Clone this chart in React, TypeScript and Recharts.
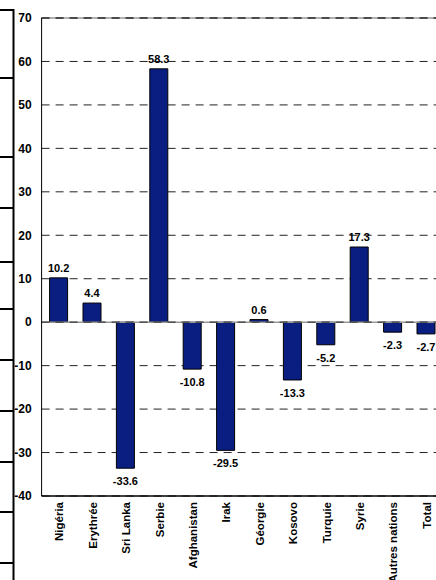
import { Bar, BarChart, CartesianGrid, LabelList, ReferenceLine, XAxis, YAxis } from "recharts";

const countries = [
  "Nigéria",
  "Erythrée",
  "Sri Lanka",
  "Serbie",
  "Afghanistan",
  "Irak",
  "Géorgie",
  "Kosovo",
  "Turquie",
  "Syrie",
  "Autres nations",
  "Total",
];
const changes = [10.2, 4.4, -33.6, 58.3, -10.8, -29.5, 0.6, -13.3, -5.2, 17.3, -2.3, -2.7];
const yTicks = [-40, -30, -20, -10, 0, 10, 20, 30, 40, 50, 60, 70];

const data = countries.map((name, i) => ({ name, value: changes[i] }));

// decorative table border on the far left of the page
const frameRows = [10, 78, 157, 208, 262, 309, 360, 411, 462, 512, 563];

const font = "'Liberation Sans', Arial, sans-serif";

function CountryTick({ x, y, payload }: any) {
  return (
    <text
      x={x}
      y={y}
      dy={5}
      transform={`rotate(-90 ${x} ${y})`}
      textAnchor="end"
      fontSize={11.5}
      fontWeight="bold"
      fontFamily={font}
      fill="#000"
    >
      {payload.value}
    </text>
  );
}

function ValueLabel({ x, y, width, height, value }: any) {
  const top = Math.min(y, y + height);
  const bottom = Math.max(y, y + height);
  const ty = value >= 0 ? top - 6 : bottom + 17;
  return (
    <text
      x={x + width / 2}
      y={ty}
      textAnchor="middle"
      fontSize={11}
      fontWeight="bold"
      fontFamily={font}
      fill="#000"
    >
      {value}
    </text>
  );
}

export default function App() {
  return (
    <div
      style={{
        position: "absolute",
        left: 0,
        top: 0,
        width: 436,
        height: 580,
        overflow: "hidden",
        background: "#fff",
      }}
    >
      <svg width={20} height={580} style={{ position: "absolute", left: 0, top: 0 }}>
        <line x1={13.5} x2={13.5} y1={frameRows[0] - 1} y2={580} stroke="#000" strokeWidth={2} />
        {frameRows.map((r) => (
          <line key={r} x1={0} x2={14} y1={r} y2={r} stroke="#000" strokeWidth={2} />
        ))}
      </svg>
      <div style={{ position: "absolute", left: 0, top: 0 }}>
        <BarChart
          width={450}
          height={580}
          data={data}
          margin={{ top: 18, right: 7.6, bottom: 0, left: 0 }}
          barSize={18}
        >
          <CartesianGrid vertical={false} stroke="#222" strokeDasharray="8 6" />
          <ReferenceLine y={70} stroke="#999" strokeWidth={1.5} />
          <ReferenceLine y={70} stroke="#333" strokeWidth={1.5} strokeDasharray="8 6" />
          <ReferenceLine y={0} stroke="#999" strokeWidth={1.5} />
          <ReferenceLine y={0} stroke="#333" strokeWidth={1} strokeDasharray="8 6" />
          <XAxis
            dataKey="name"
            interval={0}
            height={84}
            tickSize={0}
            tickMargin={6}
            tickLine={false}
            axisLine={{ stroke: "#000", strokeWidth: 1.5 }}
            tick={<CountryTick />}
          />
          <YAxis
            width={41.6}
            domain={[-40, 70]}
            ticks={yTicks}
            interval={0}
            tickLine={false}
            tickSize={6}
            tickMargin={4}
            axisLine={{ stroke: "#000" }}
            tick={{ fontSize: 12, fontWeight: "bold", fontFamily: font, fill: "#000" }}
          />
          <Bar dataKey="value" fill="#0A1E82" stroke="#000" strokeWidth={1} isAnimationActive={false}>
            <LabelList dataKey="value" content={<ValueLabel />} />
          </Bar>
        </BarChart>
      </div>
    </div>
  );
}
